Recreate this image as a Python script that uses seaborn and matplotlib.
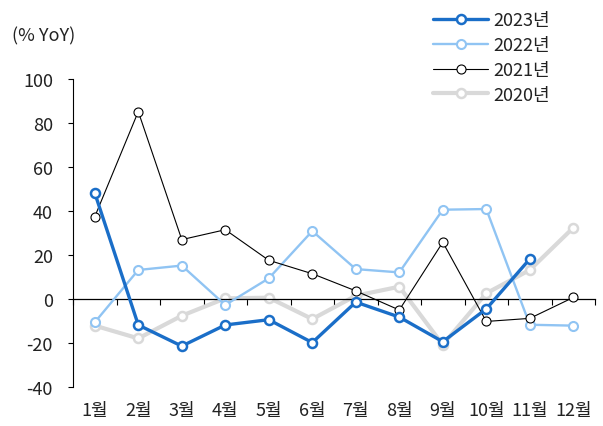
import numpy as np
import pandas as pd
import matplotlib
matplotlib.use("Agg")
import matplotlib.pyplot as plt
import seaborn as sns

months = ["1월", "2월", "3월", "4월", "5월", "6월", "7월", "8월", "9월", "10월", "11월", "12월"]
y2023 = [48.2, -11.8, -21.4, -11.8, -9.4, -19.8, -1.4, -8.2, -19.4, -4.5, 18.2, np.nan]
y2022 = [-10.6, 13.2, 15.2, -2.7, 9.4, 30.9, 13.6, 12.1, 40.6, 40.9, -11.7, -12.1]
y2021 = [37.4, 85.2, 27.0, 31.5, 17.6, 11.5, 3.7, -5.0, 25.8, -10.2, -8.8, 0.7]
y2020 = [-12.1, -17.9, -7.6, 0.3, 0.6, -9.1, 1.5, 5.6, -20.8, 2.6, 13.2, 32.4]
series_names = ["2023년", "2022년", "2021년", "2020년"]
yticks = [-40, -20, 0, 20, 40, 60, 80, 100]

sns.set_style("white")
plt.rcParams['font.family'] = ['Noto Sans CJK KR', 'DejaVu Sans']

frames = []
for name, vals in zip(series_names, [y2023, y2022, y2021, y2020]):
    frames.append(pd.DataFrame({"x": np.arange(len(months)), "value": vals, "series": name}))
df = pd.concat(frames, ignore_index=True)

styles = {
    "2023년": dict(color="#1a6ec8", lw=2.4, mew=1.8, z=5),
    "2022년": dict(color="#90c4f3", lw=1.7, mew=1.5, z=3),
    "2021년": dict(color="#000000", lw=0.8, mew=0.8, z=4),
    "2020년": dict(color="#d9d9d9", lw=3.0, mew=1.8, z=2),
}

FS = 13
TXT = "#222222"

fig = plt.figure(figsize=(6.03, 4.27), dpi=100)
ax = fig.add_axes([0.1211, 0.0913, 0.8657, 0.7213])

for name in series_names:
    st = styles[name]
    sub = df[df["series"] == name]
    sns.lineplot(data=sub, x="x", y="value", ax=ax, color=st["color"], lw=st["lw"],
                 marker="o", markersize=6.5, markerfacecolor="white",
                 markeredgecolor=st["color"], markeredgewidth=st["mew"],
                 label=name, zorder=st["z"])

ax.set_xlim(-0.5, 11.5)
ax.set_ylim(-40, 100)
ax.set_yticks(yticks)
ax.set_yticklabels([str(v) for v in yticks], fontsize=FS, color=TXT)
ax.tick_params(axis="y", direction="out", length=3.5, width=0.8, color="#000000", pad=11, left=True)

# bottom spine at zero with boundary ticks
ax.spines["bottom"].set_position(("data", 0))
ax.spines["bottom"].set_color("black")
ax.spines["bottom"].set_linewidth(0.9)
ax.set_xticks(np.arange(-0.5, 12, 1))
ax.set_xticklabels([])
ax.tick_params(axis="x", direction="out", length=4.5, width=0.8, color="black", bottom=True)
ax.spines["top"].set_visible(False)
ax.spines["right"].set_visible(False)
ax.spines["left"].set_color("black")
ax.spines["left"].set_linewidth(0.8)
ax.set_xlabel("")
ax.set_ylabel("")

sec = ax.secondary_xaxis("bottom")
sec.set_xticks(np.arange(len(months)))
sec.set_xticklabels(months, fontsize=FS, color=TXT)
sec.tick_params(length=0, pad=10)
sec.spines["bottom"].set_visible(False)

fig.text(12 / 603, 1 - 36 / 427, "(% YoY)", fontsize=FS, va="center", ha="left", color=TXT)

ax.legend(loc="upper left", bbox_to_anchor=(426 / 603, 1 - 5 / 427), bbox_transform=fig.transFigure,
          frameon=False, fontsize=FS, handlelength=3.05, labelspacing=0.38, handletextpad=0.3,
          borderaxespad=0, labelcolor=TXT)

fig.savefig("out.png", dpi=100)
